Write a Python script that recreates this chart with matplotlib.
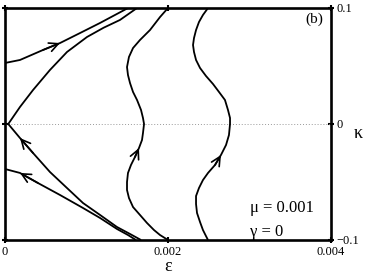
import matplotlib
matplotlib.use("Agg")
import matplotlib.pyplot as plt

plt.rcParams['font.family'] = ['Liberation Serif', 'DejaVu Serif']

# data (epsilon, kappa)
a_eps = [0.0, 0.000184, 0.000466, 0.000675, 0.00092, 0.001166, 0.00135, 0.00151]
a_kap = [0.0526, 0.0552, 0.0638, 0.0698, 0.0784, 0.0871, 0.094, 0.1]

b_eps = [0.00004, 0.000184, 0.000344, 0.000552, 0.000761, 0.001006, 0.00121, 0.001411, 0.00162]
b_kap = [0.0, 0.0147, 0.0293, 0.0466, 0.0621, 0.075, 0.0830, 0.0897, 0.1]

c_eps = [0.00004, 0.000184, 0.000344, 0.000552, 0.000761, 0.000957, 0.001166, 0.001374, 0.001534, 0.001669]
c_kap = [0.0, -0.0121, -0.025, -0.0414, -0.0552, -0.0681, -0.0784, -0.0888, -0.0948, -0.1]

d_eps = [0.0, 0.000184, 0.000405, 0.000675, 0.000957, 0.001166, 0.001374, 0.001509, 0.001607]
d_kap = [-0.0388, -0.0422, -0.0509, -0.0612, -0.0724, -0.081, -0.0905, -0.0957, -0.1]

e_eps = [0.002, 0.001902, 0.001779, 0.001656, 0.001571, 0.001521, 0.001497, 0.001509, 0.001534,
         0.001571, 0.00162, 0.001669, 0.001693, 0.001706, 0.001693, 0.001681, 0.001644, 0.001595,
         0.001546, 0.001509, 0.001497, 0.001497, 0.001521, 0.001571, 0.001656, 0.001742, 0.001828,
         0.001902, 0.002]
e_kap = [0.1, 0.0922, 0.081, 0.0724, 0.0655, 0.0578, 0.0491, 0.0422, 0.0353, 0.0276, 0.0207,
         0.0121, 0.0052, 0.0, -0.0078, -0.0138, -0.0207, -0.0284, -0.0353, -0.0422, -0.05,
         -0.0569, -0.0638, -0.0716, -0.0784, -0.0853, -0.0914, -0.0957, -0.1]

f_eps = [0.002491, 0.002429, 0.00238, 0.002344, 0.002319, 0.002307, 0.002319, 0.002344, 0.002393,
         0.002466, 0.002552, 0.002626, 0.002699, 0.002736, 0.002761, 0.002761, 0.002748, 0.002712,
         0.00265, 0.002577, 0.002491, 0.002429, 0.00238, 0.002344, 0.002344, 0.002356, 0.002393,
         0.002429, 0.002466, 0.002491]
f_kap = [0.1, 0.094, 0.0879, 0.081, 0.0741, 0.0681, 0.0621, 0.0552, 0.0483, 0.0414, 0.0345,
         0.0276, 0.0207, 0.0121, 0.0052, 0.0, -0.0095, -0.0181, -0.0267, -0.0353, -0.0422,
         -0.0483, -0.0552, -0.0621, -0.069, -0.0767, -0.0845, -0.0914, -0.0966, -0.1]

# arrows: (curve, from index, to index)
curves = {'a': (a_eps, a_kap), 'b': (b_eps, b_kap), 'c': (c_eps, c_kap),
          'd': (d_eps, d_kap), 'e': (e_eps, e_kap), 'f': (f_eps, f_kap)}
arrows = [('a', 2, 3), ('c', 2, 1), ('d', 2, 1), ('e', 17, 16), ('f', 19, 18)]

x_ticks = [0, 0.002, 0.004]
x_labels = ['0', '0.002', '0.004']
y_ticks = [-0.1, 0, 0.1]
y_labels = ['\u22120.1', '0', '0.1']

fig = plt.figure(figsize=(3.74, 2.77), dpi=100)
ax = fig.add_axes([5/374, 37/277, 326/374, 232/277])

ax.axhline(0, color='#999999', lw=0.7, ls=(0, (1, 2)))
for key, (xe, yk) in curves.items():
    ax.plot(xe, yk, color='black', lw=1.3, solid_joinstyle='round', solid_capstyle='butt')
for key, i0, i1 in arrows:
    xe, yk = curves[key]
    ax.annotate('', xy=(xe[i1], yk[i1]), xytext=(xe[i0], yk[i0]),
                arrowprops=dict(arrowstyle='->,head_length=0.65,head_width=0.32',
                                color='black', lw=1.2, shrinkA=0, shrinkB=0))

ax.set_xlim(0, 0.004)
ax.set_ylim(-0.1, 0.1)
for s in ax.spines.values():
    s.set_linewidth(1.9)
ax.set_xticks(x_ticks)
ax.set_xticklabels(x_labels, fontsize=9)
ax.yaxis.tick_right()
ax.set_yticks(y_ticks)
ax.set_yticklabels(y_labels, fontsize=9)
ax.tick_params(axis='both', direction='inout', length=4, width=1.5, top=True, left=True, right=True, pad=2)

ax.set_xlabel('\u03b5', fontsize=13, labelpad=0)
ax.text(1.083, 0.46, '\u03ba', transform=ax.transAxes, fontsize=13, ha='center', va='center')

ax.text(0.95, 0.95, '(b)', transform=ax.transAxes, fontsize=11, ha='center', va='center')
ax.text(0.75, 0.14, '\u03bc = 0.001', transform=ax.transAxes, fontsize=12, ha='left', va='center')
ax.text(0.75, 0.035, '\u03b3 = 0', transform=ax.transAxes, fontsize=12, ha='left', va='center')

fig.savefig('out.png', dpi=100)
